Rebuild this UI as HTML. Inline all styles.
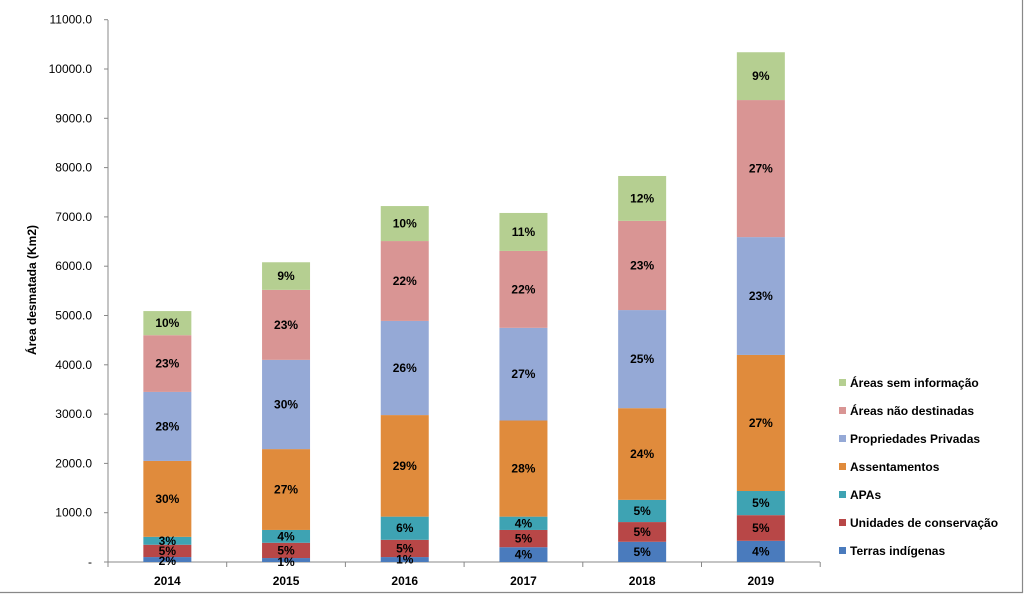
<!DOCTYPE html>
<html><head><meta charset="utf-8"><style>
html,body{margin:0;padding:0;background:#fff;width:1024px;height:598px;overflow:hidden}
svg{display:block;font-family:"Liberation Sans",Arial,sans-serif}
</style></head><body>
<svg id="c" width="1024" height="598" xmlns="http://www.w3.org/2000/svg"></svg>
<script>
const s=document.getElementById('c');let h='';
const y0=562,k=49.3/1000;const Y=v=>y0-v*k;
h+='<line x1="1022.5" y1="0" x2="1022.5" y2="593" stroke="#888" stroke-width="1.2"/>';
h+='<line x1="0" y1="592.5" x2="1023" y2="592.5" stroke="#888" stroke-width="1.2"/>';
h+='<line x1="108" y1="20" x2="108" y2="562" stroke="#888"/>';
h+='<line x1="108" y1="562" x2="820" y2="562" stroke="#888"/>';
for(let i=0;i<=11;i++){const y=Y(i*1000);h+=`<line x1="104" y1="${y}" x2="108" y2="${y}" stroke="#888"/>`;
h+=`<text x="92" y="${y+4}" font-size="12" text-anchor="end">${i==0?'-':(i*1000).toFixed(1)}</text>`;}
for(let i=0;i<=6;i++){const x=108+i*118.7;h+=`<line x1="${x}" y1="562" x2="${x}" y2="567" stroke="#888"/>`;}
h+='<text transform="translate(36,290) rotate(-90)" font-size="12" font-weight="bold" text-anchor="middle">Área desmatada (Km2)</text>';
const cols=['#4a7bbd','#b84747','#3ea3b3','#e08b3c','#95a9d6','#d99594','#b5cf91'];
const data=[
[100,350,510,2050,3450,4600,5090],
[80,390,650,2290,4100,5520,6080],
[100,450,920,2980,4890,6510,7220],
[300,650,920,2870,4750,6310,7080],
[410,810,1260,3120,5110,6920,7830],
[430,950,1440,4200,6590,9370,10340]];
const lab=[['2%','5%','3%','30%','28%','23%','10%'],['1%','5%','4%','27%','30%','23%','9%'],['1%','5%','6%','29%','26%','22%','10%'],['4%','5%','4%','28%','27%','22%','11%'],['5%','5%','5%','24%','25%','23%','12%'],['4%','5%','5%','27%','23%','27%','9%']];
const yrs=[2014,2015,2016,2017,2018,2019];
data.forEach((d,i)=>{const cx=108+118.7*(i+.5),x=cx-24;let p=0;
d.forEach((v,j)=>{h+=`<rect x="${x}" y="${Y(v)}" width="48" height="${Y(p)-Y(v)}" fill="${cols[j]}"/>`;p=v;});
p=0;d.forEach((v,j)=>{let ym=(Y(p)+Y(v))/2+4;if(i==0&&j==0)ym=565;if(i==1&&j==0)ym=566;
h+=`<text x="${cx}" y="${ym}" font-size="12" font-weight="bold" text-anchor="middle">${lab[i][j]}</text>`;p=v;});
h+=`<text x="${cx}" y="585" font-size="12" font-weight="bold" text-anchor="middle">${yrs[i]}</text>`;});
const L=['Áreas sem informação','Áreas não destinadas','Propriedades Privadas','Assentamentos','APAs','Unidades de conservação','Terras indígenas'];
L.forEach((t,i)=>{const y=383+i*28;h+=`<rect x="839" y="${y-4}" width="7" height="7" fill="${cols[6-i]}"/>`;
h+=`<text x="850" y="${y+4}" font-size="12" font-weight="bold">${t}</text>`;});
s.innerHTML=h;
</script>
</body></html>
